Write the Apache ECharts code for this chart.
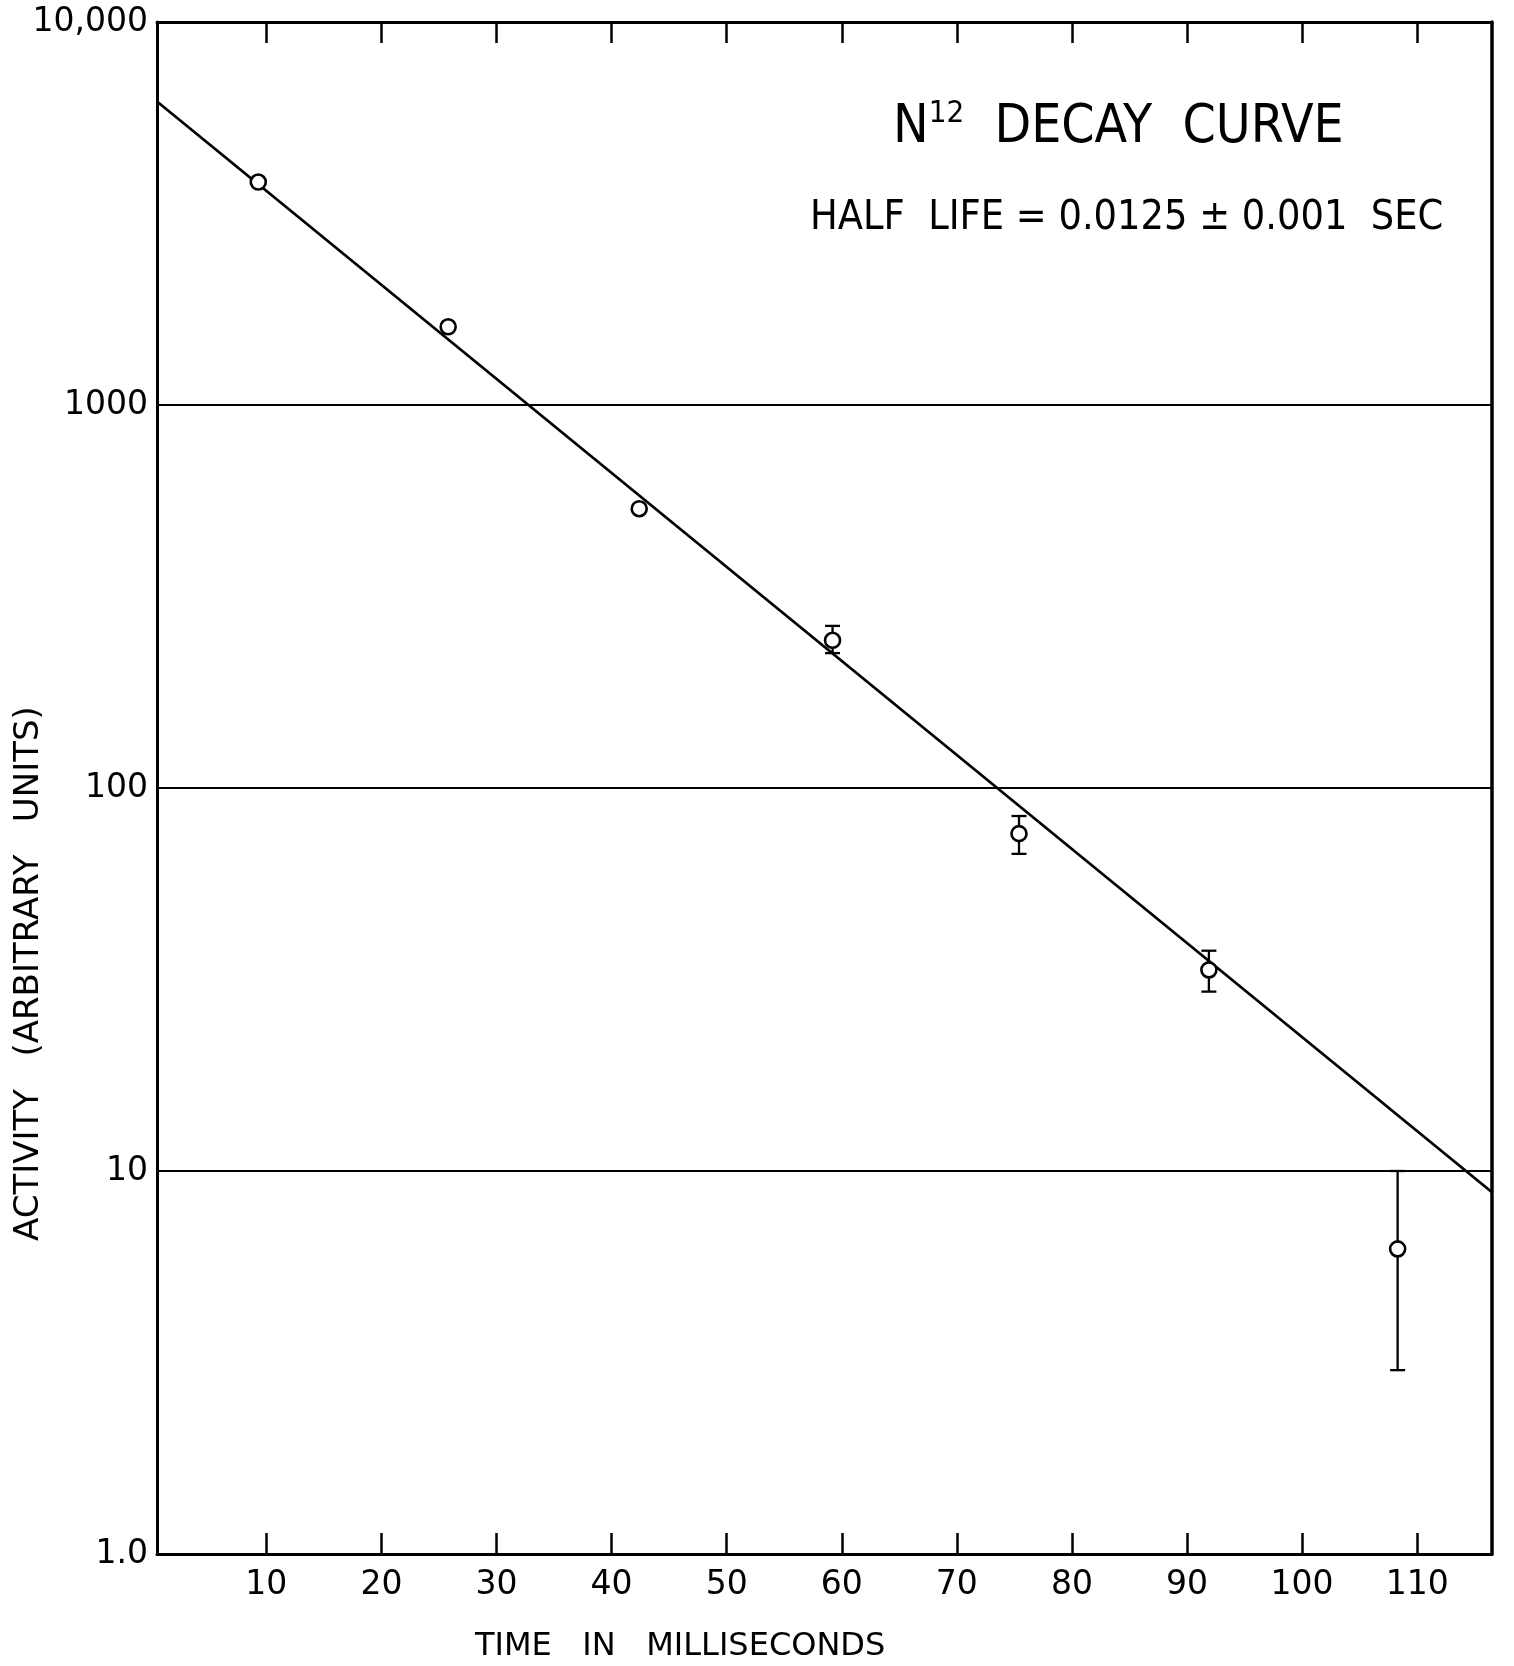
<!DOCTYPE html>
<html><head><meta charset="utf-8">
<script src="https://cdn.jsdelivr.net/npm/echarts@6/dist/echarts.min.js"></script>
<style>html,body{margin:0;padding:0;background:#fff}#c{width:1514px;height:1666px}</style>
</head><body><div id="c"></div>
<script>
// ---- data ----
const timesMs = [9.3, 25.8, 42.4, 59.2, 75.4, 91.9, 108.3];
const activity = [3820, 1600, 536, 243, 76, 33.5, 6.26];
const errLow = [null, null, null, 225, 67.3, 29.4, 3.02];
const errHigh = [null, null, null, 265, 84.5, 37.6, 10.0];
const fitTimes = [0.5, 116.5];
const fitActivity = [6200, 8.8];
const xTickValues = [10, 20, 30, 40, 50, 60, 70, 80, 90, 100, 110];
const yTickValues = [1, 10, 100, 1000, 10000];
const yTickLabels = ['1.0', '10', '100', '1000', '10,000'];

const FONT = 'DejaVu Sans';
const COND = 'DejaVu Sans Condensed, DejaVu Sans';
const chart = echarts.init(document.getElementById('c'), null, {renderer: 'canvas'});

const pointData = timesMs.map((t, i) => [t, activity[i]]);
const fitData = fitTimes.map((t, i) => [t, fitActivity[i]]);
const errData = [];
timesMs.forEach((t, i) => { if (errLow[i] != null) errData.push([t, errLow[i], errHigh[i]]); });

const GRID = {left: 157, right: 22, top: 22, bottom: 112};

chart.setOption({
  backgroundColor: '#ffffff',
  animation: false,
  grid: GRID,
  xAxis: [{
    type: 'value', min: 0.5, max: 116.5, position: 'bottom',
    axisLine: {show: true, lineStyle: {color: '#000', width: 3}},
    axisTick: {show: true, inside: true, length: 21, customValues: xTickValues, lineStyle: {color: '#000', width: 2.5}},
    axisLabel: {show: true, customValues: xTickValues, margin: 15, color: '#000', fontFamily: FONT, fontSize: 33},
    splitLine: {show: false}
  }, {
    type: 'value', min: 0.5, max: 116.5, position: 'top',
    axisLine: {show: true, lineStyle: {color: '#000', width: 3}},
    axisTick: {show: true, inside: true, length: 21, customValues: xTickValues, lineStyle: {color: '#000', width: 2.5}},
    axisLabel: {show: false},
    splitLine: {show: false}
  }],
  yAxis: [{
    type: 'log', logBase: 10, min: 1, max: 10000, position: 'left',
    axisLine: {show: true, lineStyle: {color: '#000', width: 3}},
    axisTick: {show: false},
    minorTick: {show: false},
    axisLabel: {
      show: true, margin: 9, color: '#000', fontFamily: FONT, fontSize: 33,
      formatter: v => { const k = yTickValues.findIndex(u => Math.abs(u - v) / u < 1e-6); return k >= 0 ? yTickLabels[k] : ''; }
    },
    splitLine: {show: true, lineStyle: {color: '#000', width: 1.8}}
  }, {
    type: 'log', logBase: 10, min: 1, max: 10000, position: 'right',
    axisLine: {show: true, lineStyle: {color: '#000', width: 3.5}},
    axisTick: {show: false}, axisLabel: {show: false}, splitLine: {show: false}
  }],
  series: [{
    type: 'line', data: fitData, xAxisIndex: 0, yAxisIndex: 0,
    showSymbol: false, symbol: 'none',
    lineStyle: {color: '#000', width: 2.8}, z: 2
  }, {
    type: 'custom', data: errData, xAxisIndex: 0, yAxisIndex: 0, z: 3,
    renderItem: function (params, api) {
      const x = api.value(0);
      const lo = api.coord([x, api.value(1)]);
      const hi = api.coord([x, api.value(2)]);
      const cap = 7.5;
      const st = {stroke: '#000', lineWidth: 2.3};
      return {type: 'group', children: [
        {type: 'line', shape: {x1: lo[0], y1: lo[1], x2: hi[0], y2: hi[1]}, style: st},
        {type: 'line', shape: {x1: lo[0] - cap, y1: lo[1], x2: lo[0] + cap, y2: lo[1]}, style: st},
        {type: 'line', shape: {x1: hi[0] - cap, y1: hi[1], x2: hi[0] + cap, y2: hi[1]}, style: st}
      ]};
    }
  }, {
    type: 'scatter', data: pointData, xAxisIndex: 0, yAxisIndex: 0, z: 5,
    symbol: 'circle', symbolSize: 15,
    itemStyle: {color: '#fff', borderColor: '#000', borderWidth: 2.6, opacity: 1}
  }],
  graphic: [{
    type: 'text', left: 893, top: 98, z: 10,
    style: {
      text: '{n|N}{s|12}{n|  DECAY  CURVE}',
      rich: {
        n: {fontFamily: COND, fontSize: 53, fill: '#000', verticalAlign: 'bottom'},
        s: {fontFamily: COND, fontSize: 31, fill: '#000', verticalAlign: 'top', padding: [0, 0, 26, 0]}
      }
    }
  }, {
    type: 'text', left: 810, top: 198, z: 10,
    style: {text: 'HALF  LIFE = 0.0125 \u00b1 0.001  SEC', fontFamily: COND, fontSize: 41, fill: '#000'}
  }, {
    type: 'text', left: 475, top: 1631, z: 10,
    style: {text: 'TIME   IN   MILLISECONDS', fontFamily: FONT, fontSize: 32, fill: '#000'}
  }, {
    type: 'text', x: 12, y: 1241, rotation: Math.PI / 2, z: 10,
    style: {text: 'ACTIVITY   (ARBITRARY   UNITS)', fontFamily: FONT, fontSize: 34, fill: '#000'}
  }]
});
</script>
</body></html>
